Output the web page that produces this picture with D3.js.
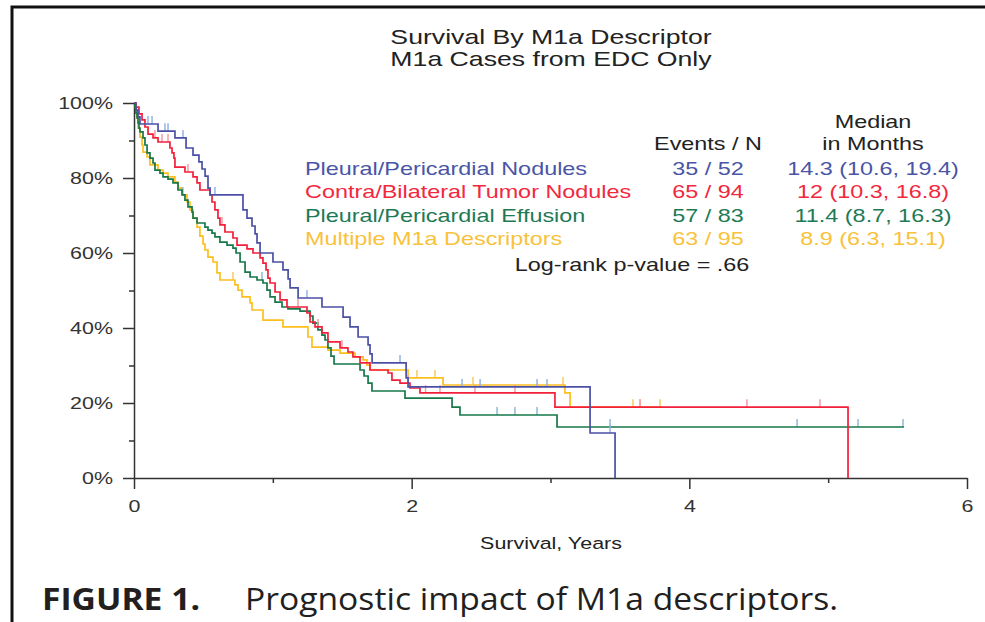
<!DOCTYPE html>
<html>
<head>
<meta charset="utf-8">
<script src="https://cdn.jsdelivr.net/npm/d3@7/dist/d3.min.js"></script>
<style>
  body { margin: 0; background: #fff; }
  svg { display: block; }
</style>
</head>
<body>
<script>
// survival curves, time in years, survival in %
const blueTimes = [0, 0.014, 0.029, 0.043, 0.173, 0.295, 0.375, 0.425, 0.468, 0.490, 0.512, 0.533, 0.548, 0.785, 0.814, 0.850, 0.872, 0.886, 0.908, 1.001, 1.073, 1.110, 1.124, 1.182, 1.354, 1.506, 1.556, 1.614, 1.686, 1.700, 1.715, 1.960, 1.974, 3.285, 3.465];
const blueSurv = [100, 98.1, 96.3, 94.4, 92.5, 90.7, 88.0, 86.1, 84.3, 82.4, 80.5, 77.3, 75.5, 71.5, 69.3, 67.2, 65.1, 62.7, 60.0, 57.6, 55.5, 53.1, 50.7, 48.0, 45.6, 42.9, 40.3, 37.6, 35.5, 33.1, 30.7, 26.7, 24.3, 12.0, 0];
const blueCensor = [0.101, 0.130, 0.223, 0.245, 0.353, 0.583, 1.246, 1.916, 2.363, 2.493, 2.903, 2.975, 3.429];
const blueEnd = 3.465;

const redTimes = [0, 0.014, 0.036, 0.058, 0.079, 0.101, 0.137, 0.173, 0.259, 0.274, 0.288, 0.295, 0.367, 0.425, 0.454, 0.475, 0.547, 0.562, 0.583, 0.605, 0.619, 0.655, 0.713, 0.742, 0.814, 0.857, 0.908, 0.929, 0.951, 0.965, 0.980, 1.016, 1.052, 1.102, 1.246, 1.268, 1.304, 1.354, 1.397, 1.484, 1.541, 1.577, 1.628, 1.700, 1.830, 1.858, 1.916, 1.988, 2.060, 3.032, 5.143];
const redSurv = [100, 98.9, 97.1, 95.5, 93.6, 91.7, 90.7, 89.6, 88.0, 86.7, 85.3, 82.9, 81.6, 80.3, 78.7, 76.8, 75.5, 73.6, 71.5, 69.3, 67.5, 65.6, 64.0, 62.1, 61.1, 60.0, 58.7, 57.3, 55.5, 53.3, 52.0, 49.6, 47.5, 45.6, 44.0, 41.6, 40.3, 38.7, 36.3, 34.7, 33.6, 32.3, 30.7, 28.8, 28.0, 26.1, 25.3, 24.0, 22.7, 18.9, 0];
const redCensor = [0.151, 0.202, 0.245, 0.389, 0.634, 1.181, 1.325, 1.498, 1.974, 2.100, 2.204, 2.456, 2.744, 3.645, 4.415, 4.941];
const redEnd = 5.143;

const greenTimes = [0, 0.007, 0.014, 0.022, 0.029, 0.036, 0.043, 0.065, 0.079, 0.094, 0.115, 0.137, 0.151, 0.187, 0.209, 0.245, 0.281, 0.317, 0.346, 0.367, 0.389, 0.418, 0.425, 0.454, 0.511, 0.533, 0.562, 0.583, 0.619, 0.670, 0.713, 0.735, 0.764, 0.800, 0.836, 0.886, 0.929, 0.958, 0.980, 1.016, 1.066, 1.109, 1.196, 1.268, 1.289, 1.325, 1.354, 1.376, 1.397, 1.419, 1.441, 1.628, 1.657, 1.686, 1.714, 1.952, 2.291, 2.348, 3.047];
const greenSurv = [100, 98.7, 97.3, 96.0, 94.7, 93.3, 92.3, 90.7, 88.8, 86.7, 85.3, 84.0, 82.1, 81.3, 80.3, 79.7, 78.7, 76.8, 75.5, 74.1, 72.3, 70.9, 69.3, 68.0, 66.9, 66.1, 65.3, 64.3, 62.9, 62.1, 61.3, 60.0, 57.6, 54.9, 53.6, 52.8, 52.0, 50.1, 48.3, 46.9, 45.6, 45.1, 44.5, 43.2, 41.3, 39.5, 38.1, 36.8, 34.7, 32.5, 30.4, 28.8, 27.2, 25.3, 23.2, 21.3, 18.9, 16.8, 13.6];
const greenCensor = [0.346, 0.922, 2.615, 2.744, 2.903, 3.429, 4.776, 5.215, 5.539];
const greenEnd = 5.546;

const yellowTimes = [0, 0.014, 0.022, 0.029, 0.043, 0.058, 0.065, 0.094, 0.115, 0.173, 0.209, 0.245, 0.295, 0.317, 0.353, 0.382, 0.403, 0.425, 0.454, 0.475, 0.497, 0.511, 0.533, 0.569, 0.598, 0.619, 0.727, 0.749, 0.778, 0.836, 0.850, 0.929, 1.073, 1.253, 1.282, 1.397, 1.484, 1.592, 1.650, 1.678, 1.700, 1.974, 2.226, 3.104, 3.141];
const yellowSurv = [100, 98.1, 96.0, 93.3, 90.9, 88.8, 86.9, 85.6, 83.5, 82.1, 81.3, 80.3, 78.9, 77.3, 75.5, 73.6, 71.5, 69.3, 66.9, 64.5, 62.4, 60.8, 58.9, 57.6, 54.7, 52.8, 51.5, 50.1, 48.3, 46.7, 44.8, 42.1, 40.3, 37.6, 34.9, 34.1, 33.3, 32.3, 31.5, 30.1, 28.8, 26.7, 24.8, 22.7, 18.9];
const yellowCensor = [0.713, 2.038, 2.168, 2.442, 3.090, 3.594, 3.645, 3.789];
const yellowEnd = 3.803;

// legend table
const legendLabels = ["Pleural/Pericardial Nodules", "Contra/Bilateral Tumor Nodules", "Pleural/Pericardial Effusion", "Multiple M1a Descriptors"];
const eventsN = ["35 / 52", "65 / 94", "57 / 83", "63 / 95"];
const medians = ["14.3 (10.6, 19.4)", "12 (10.3, 16.8)", "11.4 (8.7, 16.3)", "8.9 (6.3, 15.1)"];
const pValueText = "Log-rank p-value = .66";

const titleLines = ["Survival By M1a Descriptor", "M1a Cases from EDC Only"];
const xTicks = [0, 2, 4, 6], xMinor = [1, 3, 5];
const yTicks = [0, 20, 40, 60, 80, 100], yMinor = [10, 30, 50, 70, 90];

const lineColors = ["#4b50a6", "#f2203a", "#17784a", "#fdbf1f"];
const censorColors = ["#93b4e4", "#f59aa6", "#8fb9d6", "#f6cc62"];
const textColors = ["#4a55a6", "#f2283e", "#1e7a55", "#f8c23a"];

const width = 985, height = 622;
const textStretch = 1.3;
const chartFont = "'Liberation Sans', Arial, sans-serif";
const captionFont = "'Open Sans', 'Noto Sans', sans-serif";

const svg = d3.select("body").append("svg")
  .attr("width", width)
  .attr("height", height);

svg.append("rect").attr("width", width).attr("height", height).attr("fill", "#fff");

// frame of the figure
svg.append("path")
  .attr("d", `M12,${height} L12,7 L${width},7`)
  .attr("fill", "none")
  .attr("stroke", "#111")
  .attr("stroke-width", 3);

const x = d3.scaleLinear().domain([0, 6]).range([134, 967]);
const y = d3.scaleLinear().domain([0, 100]).range([478, 103]);

function stretch(sel) {
  sel.each(function() {
    const t = d3.select(this);
    const tx = +t.attr("x") || 0, ty = +t.attr("y") || 0;
    t.attr("x", 0).attr("y", 0)
      .attr("transform", `translate(${tx},${ty}) scale(${textStretch},1)`);
  });
}

// title
svg.append("g").selectAll("text")
  .data(titleLines)
  .join("text")
  .attr("x", 551)
  .attr("y", (d, i) => 44 + i * 22)
  .attr("text-anchor", "middle")
  .attr("font-family", chartFont)
  .attr("font-size", 20.5)
  .attr("fill", "#222")
  .text(d => d)
  .call(stretch);

// axes
function styleAxis(g) {
  g.selectAll("path, line").attr("stroke", "#333").attr("stroke-width", 1.5);
  g.selectAll("text")
    .attr("font-family", chartFont)
    .attr("font-size", 16.5)
    .attr("fill", "#333")
    .call(stretch);
}

svg.append("g")
  .attr("transform", `translate(${x(0)},0)`)
  .call(d3.axisLeft(y).tickValues(yTicks).tickSize(11).tickPadding(10).tickSizeOuter(0).tickFormat(d => d + "%"))
  .call(styleAxis);

svg.append("g")
  .attr("transform", `translate(${x(0)},0)`)
  .call(d3.axisLeft(y).tickValues(yMinor).tickSize(5).tickFormat(""))
  .call(g => g.select(".domain").remove())
  .call(styleAxis);

svg.append("g")
  .attr("transform", `translate(0,${y(0)})`)
  .call(d3.axisBottom(x).tickValues(xTicks).tickSize(11).tickPadding(11).tickSizeOuter(0).tickFormat(d3.format("d")))
  .call(styleAxis);

svg.append("g")
  .attr("transform", `translate(0,${y(0)})`)
  .call(d3.axisBottom(x).tickValues(xMinor).tickSize(5).tickFormat(""))
  .call(g => g.select(".domain").remove())
  .call(styleAxis);

svg.append("text")
  .attr("x", 551)
  .attr("y", 549)
  .attr("text-anchor", "middle")
  .attr("font-family", chartFont)
  .attr("font-size", 16.5)
  .attr("fill", "#222")
  .text("Survival, Years")
  .call(stretch);

// curves
const series = [
  {times: blueTimes, surv: blueSurv, censor: blueCensor, end: blueEnd},
  {times: redTimes, surv: redSurv, censor: redCensor, end: redEnd},
  {times: greenTimes, surv: greenSurv, censor: greenCensor, end: greenEnd},
  {times: yellowTimes, surv: yellowSurv, censor: yellowCensor, end: yellowEnd}
];

const stepLine = d3.line()
  .x(d => x(d[0]))
  .y(d => y(d[1]))
  .curve(d3.curveStepAfter);

function survAt(s, t) {
  const i = d3.bisectRight(s.times, t) - 1;
  return s.surv[Math.max(i, 0)];
}

// draw order: yellow, green, red, blue on top
const drawOrder = [3, 2, 1, 0];
const curvesG = svg.append("g");

drawOrder.forEach(k => {
  const s = series[k];
  const pts = s.times.map((t, i) => [t, s.surv[i]]);
  pts.push([s.end, s.surv[s.surv.length - 1]]);

  curvesG.append("g")
    .selectAll("line")
    .data(s.censor)
    .join("line")
    .attr("x1", d => x(d))
    .attr("x2", d => x(d))
    .attr("y1", d => y(survAt(s, d)))
    .attr("y2", d => y(survAt(s, d)) - 8)
    .attr("stroke", censorColors[k])
    .attr("stroke-width", 1.5);

  curvesG.append("path")
    .datum(pts)
    .attr("d", stepLine)
    .attr("fill", "none")
    .attr("stroke", lineColors[k])
    .attr("stroke-width", 1.7);
});

// legend table
const legendG = svg.append("g")
  .attr("font-family", chartFont)
  .attr("font-size", 18);

legendG.append("text").attr("x", 708).attr("y", 149.5).attr("text-anchor", "middle").attr("fill", "#222").text("Events / N").call(stretch);
legendG.append("text").attr("x", 873).attr("y", 127.5).attr("text-anchor", "middle").attr("fill", "#222").text("Median").call(stretch);
legendG.append("text").attr("x", 873).attr("y", 149.5).attr("text-anchor", "middle").attr("fill", "#222").text("in Months").call(stretch);

legendLabels.forEach((lab, i) => {
  const yy = 174.5 + i * 23.5;
  legendG.append("text").attr("x", 305).attr("y", yy).attr("fill", textColors[i]).text(lab).call(stretch);
  legendG.append("text").attr("x", 708).attr("y", yy).attr("text-anchor", "middle").attr("fill", textColors[i]).text(eventsN[i]).call(stretch);
  legendG.append("text").attr("x", 873).attr("y", yy).attr("text-anchor", "middle").attr("fill", textColors[i]).text(medians[i]).call(stretch);
});

legendG.append("text").attr("x", 632).attr("y", 270.5).attr("text-anchor", "middle").attr("fill", "#222").text(pValueText).call(stretch);

// figure caption
svg.append("text")
  .attr("x", 42).attr("y", 610)
  .attr("font-family", captionFont)
  .attr("font-weight", "bold")
  .attr("font-size", 31)
  .attr("textLength", 158)
  .attr("lengthAdjust", "spacingAndGlyphs")
  .attr("fill", "#231f20")
  .text("FIGURE 1.");

svg.append("text")
  .attr("x", 245).attr("y", 610)
  .attr("font-family", captionFont)
  .attr("font-size", 31)
  .attr("textLength", 593)
  .attr("lengthAdjust", "spacingAndGlyphs")
  .attr("fill", "#231f20")
  .text("Prognostic impact of M1a descriptors.");
</script>
</body>
</html>
